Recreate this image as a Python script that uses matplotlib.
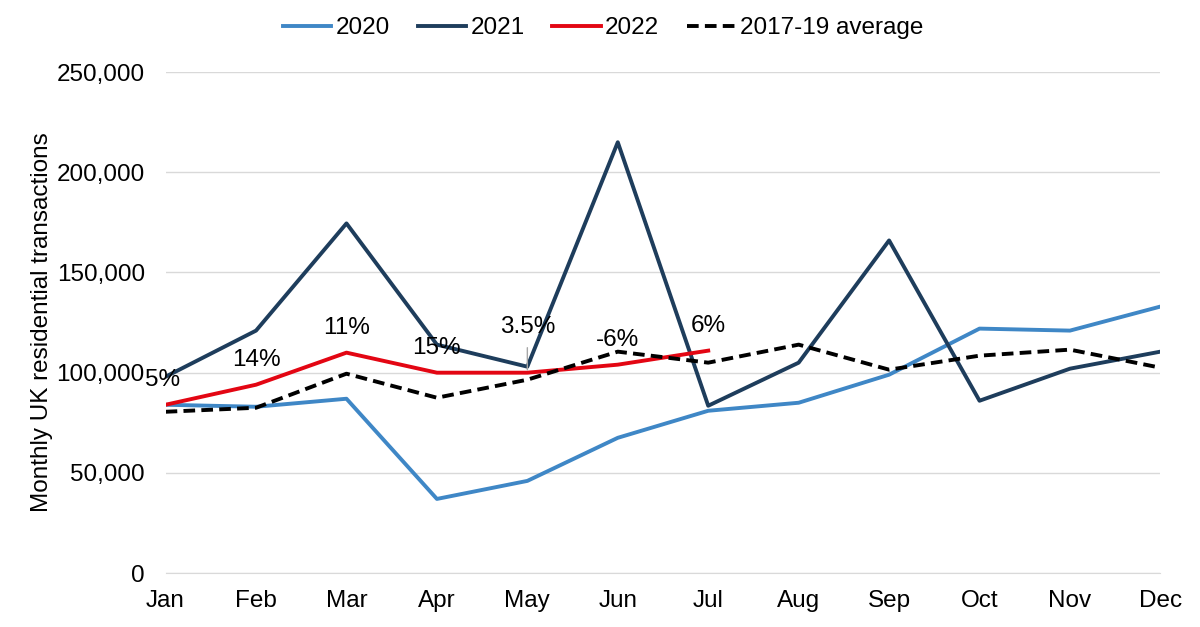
import matplotlib.pyplot as plt
from matplotlib.ticker import FuncFormatter

months = ["Jan", "Feb", "Mar", "Apr", "May", "Jun",
          "Jul", "Aug", "Sep", "Oct", "Nov", "Dec"]

tx_2020 = [84000, 83000, 87000, 37000, 46000, 67500,
           81000, 85000, 99000, 122000, 121000, 133000]
tx_2021 = [98000, 121000, 174500, 114000, 103000, 215000,
           83500, 105000, 166000, 86000, 102000, 110500]
tx_2022 = [84000, 94000, 110000, 100000, 100000, 104000, 111000]
avg_1719 = [80500, 82500, 99500, 87500, 96500, 110500,
            105000, 114000, 101500, 108500, 111500, 102500]

pct_labels = ["5%", "14%", "11%", "15%", "3.5%", "-6%", "6%"]

plt.rcParams["font.family"] = ["Liberation Sans", "DejaVu Sans"]

fig, ax = plt.subplots(figsize=(12, 6.27), dpi=100)
fig.subplots_adjust(left=0.138, right=0.967, top=0.885, bottom=0.086)

x = list(range(len(months)))
ax.plot(x, tx_2020, color="#3F87C6", lw=2.8, label="2020")
ax.plot(x, tx_2021, color="#1E3D5C", lw=2.8, label="2021")
ax.plot(x[:len(tx_2022)], tx_2022, color="#E30613", lw=2.8, label="2022")
ax.plot(x, avg_1719, color="black", lw=2.8, ls=(0, (3, 1.6)),
        label="2017-19 average")

# percentage labels above the 2022 line
for i, (val, lab) in enumerate(zip(tx_2022, pct_labels)):
    dy = 18
    if lab == "3.5%":
        dy = 33
        ax.annotate("", xy=(i, val), xytext=(0, 20), textcoords="offset points",
                    arrowprops=dict(arrowstyle="-", color="#A6A6A6", lw=1))
    dx = -2 if i == 0 else 0
    ax.annotate(lab, xy=(i, val), xytext=(dx, dy), textcoords="offset points",
                ha="center", va="center", fontsize=17.5, color="black")

ax.set_xlim(0, 11)
ax.set_ylim(0, 250000)
ax.set_yticks(range(0, 250001, 50000))
ax.yaxis.set_major_formatter(FuncFormatter(lambda v, p: f"{int(v):,}"))
ax.set_xticks(x)
ax.set_xticklabels(months)
ax.tick_params(axis="both", labelsize=17.5, length=0)
ax.tick_params(axis="y", pad=15)
ax.tick_params(axis="x", pad=12)
ax.grid(axis="y", color="#D9D9D9", lw=1)
ax.set_axisbelow(True)
for s in ["top", "right", "left"]:
    ax.spines[s].set_visible(False)
ax.spines["bottom"].set_color("#D9D9D9")
ax.set_ylabel("Monthly UK residential transactions", fontsize=17.5)
ax.yaxis.set_label_coords(-0.113, 0.5)

fig.legend(*ax.get_legend_handles_labels(), loc="center",
           bbox_to_anchor=(0.5025, 0.955), ncol=4, frameon=False, fontsize=17.5,
           handlelength=2.0, handletextpad=0.17, columnspacing=1.15)

fig.savefig("out.png", dpi=100)
